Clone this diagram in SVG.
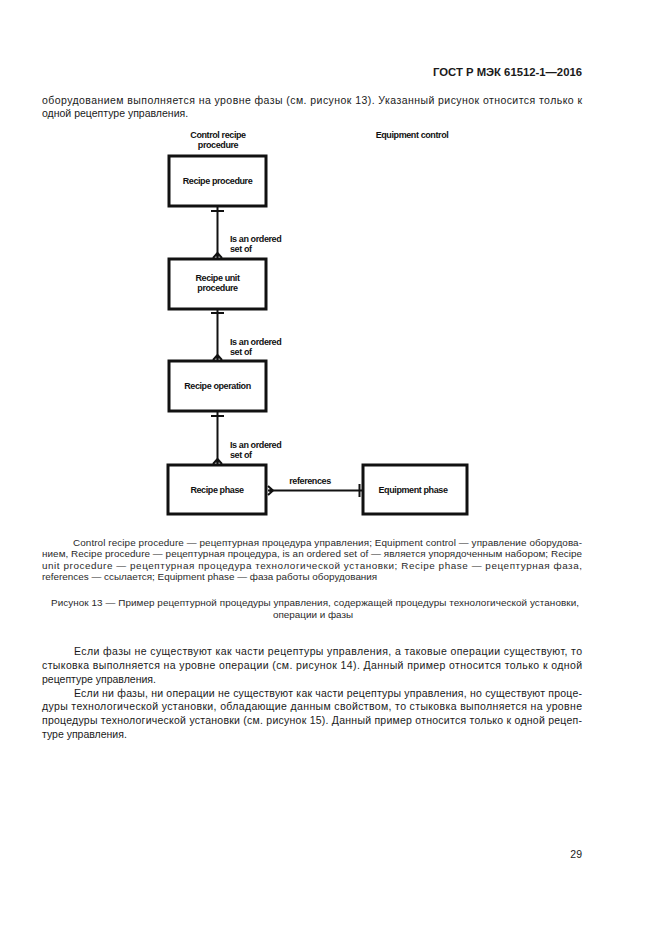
<svg xmlns="http://www.w3.org/2000/svg" width="661" height="936" viewBox="0 0 661 936">
<style>
.pg{font-family:"Liberation Sans",Arial,sans-serif;fill:#1a1a1a}
.hd{font-size:11.5px;font-weight:bold}
.bt{font-size:10.5px}
.lg{font-size:9.9px;fill:#2a2a2a}
.dg{font-family:"Liberation Sans",Arial,sans-serif;font-size:9px;font-weight:bold;fill:#111;letter-spacing:-0.4px}
.box{fill:#fff;stroke:#111;stroke-width:3}
.ln{stroke:#111;stroke-width:2;fill:none}
</style>
<rect width="661" height="936" fill="#fff"/>
<g id="page-text" class="pg">
<text class="hd" x="582" y="76" text-anchor="end" textLength="149" lengthAdjust="spacingAndGlyphs">ГОСТ Р МЭК  61512-1—2016</text>
<text class="bt" x="42" y="104" textLength="540" lengthAdjust="spacing">оборудованием выполняется на уровне фазы (см. рисунок 13). Указанный рисунок относится только к</text>
<text class="bt" x="42" y="117">одной рецептуре управления.</text>
<text class="lg" x="73" y="546" textLength="509" lengthAdjust="spacing">Control recipe procedure — рецептурная процедура управления; Equipment control — управление оборудова-</text>
<text class="lg" x="42" y="557" textLength="540" lengthAdjust="spacing">нием, Recipe procedure — рецептурная процедура, is an ordered set of — является упорядоченным набором; Recipe</text>
<text class="lg" x="42" y="569" textLength="540" lengthAdjust="spacing">unit procedure — рецептурная процедура технологической установки; Recipe phase — рецептурная фаза,</text>
<text class="lg" x="42" y="580">references — ссылается; Equipment phase — фаза работы оборудования</text>
<text class="lg" x="51" y="606" textLength="528" lengthAdjust="spacing">Рисунок 13 — Пример рецептурной процедуры управления, содержащей процедуры технологической установки,</text>
<text class="lg" x="313" y="618" text-anchor="middle">операции и фазы</text>
<text class="bt" x="74" y="655" textLength="508" lengthAdjust="spacing">Если фазы не существуют как части рецептуры управления, а таковые операции существуют, то</text>
<text class="bt" x="42" y="669" textLength="540" lengthAdjust="spacing">стыковка выполняется на уровне операции (см. рисунок 14). Данный пример относится только к одной</text>
<text class="bt" x="42" y="683">рецептуре управления.</text>
<text class="bt" x="74" y="697" textLength="508" lengthAdjust="spacing">Если ни фазы, ни операции не существуют как части рецептуры управления, но существуют проце-</text>
<text class="bt" x="42" y="710" textLength="540" lengthAdjust="spacing">дуры технологической установки, обладающие данным свойством, то стыковка выполняется на уровне</text>
<text class="bt" x="42" y="724" textLength="540" lengthAdjust="spacing">процедуры технологической установки (см. рисунок 15). Данный пример относится только к одной рецеп-</text>
<text class="bt" x="42" y="738">туре управления.</text>
<text class="bt" x="582" y="858" text-anchor="end">29</text>
</g>
<g id="column-headers">
<text class="dg" x="218" y="138" text-anchor="middle">Control recipe</text>
<text class="dg" x="218" y="148" text-anchor="middle">procedure</text>
<text class="dg" x="412" y="138" text-anchor="middle">Equipment control</text>
</g>
<g id="connectors">
<line class="ln" x1="217.5" y1="207" x2="217.5" y2="258"/>
<line class="ln" x1="211" y1="211" x2="224" y2="211"/>
<path class="ln" d="M217.5 253 L213 258 M217.5 253 L222 258" stroke-width="1.5"/>
<circle cx="217.5" cy="255.5" r="1.5" fill="#111"/>
<line class="ln" x1="217.5" y1="310" x2="217.5" y2="360"/>
<line class="ln" x1="211" y1="313" x2="224" y2="313"/>
<path class="ln" d="M217.5 355 L213 360 M217.5 355 L222 360" stroke-width="1.5"/>
<circle cx="217.5" cy="357.5" r="1.5" fill="#111"/>
<line class="ln" x1="217.5" y1="412" x2="217.5" y2="464"/>
<line class="ln" x1="211" y1="416" x2="224" y2="416"/>
<path class="ln" d="M217.5 459 L213 464 M217.5 459 L222 464" stroke-width="1.5"/>
<circle cx="217.5" cy="461.5" r="1.5" fill="#111"/>
<line class="ln" x1="268" y1="490.5" x2="362" y2="490.5"/>
<line class="ln" x1="359.5" y1="484" x2="359.5" y2="497"/>
<path class="ln" d="M273 490.5 L268 486 M273 490.5 L268 495" stroke-width="1.5"/>
<circle cx="270.5" cy="490.5" r="1.5" fill="#111"/>
<text class="dg" x="230" y="242">Is an ordered</text>
<text class="dg" x="230" y="252">set of</text>
<text class="dg" x="230" y="345">Is an ordered</text>
<text class="dg" x="230" y="355">set of</text>
<text class="dg" x="230" y="448">Is an ordered</text>
<text class="dg" x="230" y="458">set of</text>
<text class="dg" x="310" y="484" text-anchor="middle">references</text>
</g>
<g id="recipe-procedure">
<rect class="box" x="169" y="156" width="97" height="50"/>
<text class="dg" x="217.5" y="184" text-anchor="middle">Recipe procedure</text>
</g>
<g id="recipe-unit-procedure">
<rect class="box" x="169" y="259" width="97" height="50"/>
<text class="dg" x="217.5" y="281" text-anchor="middle">Recipe unit</text>
<text class="dg" x="217.5" y="291" text-anchor="middle">procedure</text>
</g>
<g id="recipe-operation">
<rect class="box" x="169" y="361" width="97" height="50"/>
<text class="dg" x="217.5" y="389" text-anchor="middle">Recipe operation</text>
</g>
<g id="recipe-phase">
<rect class="box" x="168" y="465" width="98" height="49"/>
<text class="dg" x="217" y="493" text-anchor="middle">Recipe phase</text>
</g>
<g id="equipment-phase">
<rect class="box" x="363" y="465" width="104" height="49"/>
<text class="dg" x="413" y="493" text-anchor="middle">Equipment phase</text>
</g>
</svg>
